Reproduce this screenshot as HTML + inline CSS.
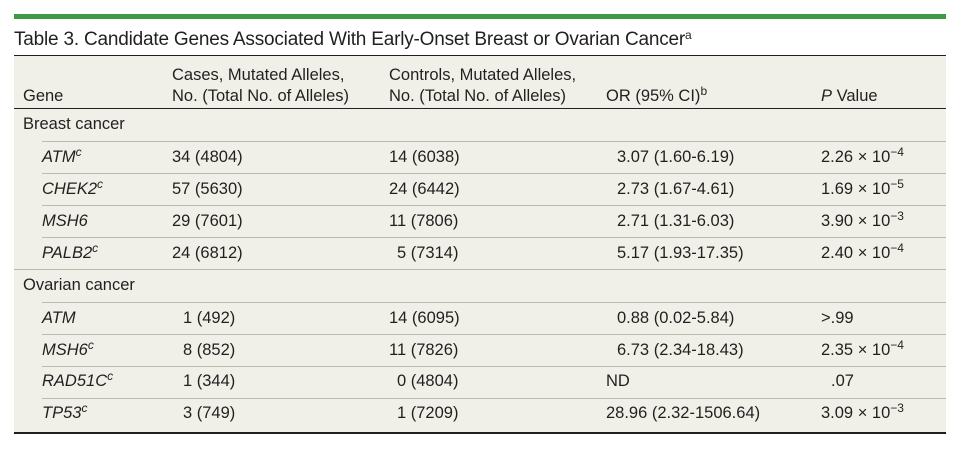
<!DOCTYPE html>
<html><head><meta charset="utf-8"><style>
body{margin:0;width:966px;height:454px;background:#fff;font-family:"Liberation Sans",sans-serif;color:#231f20;position:relative;overflow:hidden}
.a{position:absolute;white-space:nowrap;font-size:16.5px;line-height:20px}
.i{font-style:italic}
sup{font-size:12px;vertical-align:6px;line-height:0}
.l{position:absolute;height:1px;background:#bdbab0}
</style></head><body>
<div style="position:absolute;left:14px;top:14px;width:932px;height:5px;background:#3f9a48"></div>
<div class="a" style="left:14px;top:28px;font-size:19px;line-height:24px;letter-spacing:-0.2px">Table 3. Candidate Genes Associated With Early-Onset Breast or Ovarian Cancer<sup>a</sup></div>
<div style="position:absolute;left:14px;top:55px;width:932px;height:376px;background:#f1f0e8;border-top:1px solid #231f20;border-bottom:2px solid #231f20"></div>
<div style="position:absolute;left:14px;top:108px;width:932px;height:1px;background:#231f20"></div>
<div class="l" style="left:14px;top:269px;width:932px"></div>
<div class="l" style="left:42px;top:141px;width:904px"></div>
<div class="l" style="left:42px;top:173px;width:904px"></div>
<div class="l" style="left:42px;top:205px;width:904px"></div>
<div class="l" style="left:42px;top:237px;width:904px"></div>
<div class="l" style="left:42px;top:302px;width:904px"></div>
<div class="l" style="left:42px;top:334px;width:904px"></div>
<div class="l" style="left:42px;top:366px;width:904px"></div>
<div class="l" style="left:42px;top:398px;width:904px"></div>

<div class="a" style="left:23px;top:86px">Gene</div>
<div class="a" style="left:172px;top:65px">Cases, Mutated Alleles,</div>
<div class="a" style="left:172px;top:86px">No. (Total No. of Alleles)</div>
<div class="a" style="left:389px;top:65px">Controls, Mutated Alleles,</div>
<div class="a" style="left:389px;top:86px">No. (Total No. of Alleles)</div>
<div class="a" style="left:606px;top:86px">OR (95% CI)<sup>b</sup></div>
<div class="a" style="left:821px;top:86px"><span class="i">P</span> Value</div>

<div class="a" style="left:23px;top:114px">Breast cancer</div>
<div class="a i" style="left:42px;top:147px">ATM<sup>c</sup></div>
<div class="a" style="left:172px;top:147px">34 (4804)</div>
<div class="a" style="left:389px;top:147px">14 (6038)</div>
<div class="a" style="left:617px;top:147px">3.07 (1.60-6.19)</div>
<div class="a" style="left:821px;top:147px">2.26 × 10<sup>−4</sup></div>

<div class="a i" style="left:42px;top:179px">CHEK2<sup>c</sup></div>
<div class="a" style="left:172px;top:179px">57 (5630)</div>
<div class="a" style="left:389px;top:179px">24 (6442)</div>
<div class="a" style="left:617px;top:179px">2.73 (1.67-4.61)</div>
<div class="a" style="left:821px;top:179px">1.69 × 10<sup>−5</sup></div>

<div class="a i" style="left:42px;top:211px">MSH6</div>
<div class="a" style="left:172px;top:211px">29 (7601)</div>
<div class="a" style="left:389px;top:211px">11 (7806)</div>
<div class="a" style="left:617px;top:211px">2.71 (1.31-6.03)</div>
<div class="a" style="left:821px;top:211px">3.90 × 10<sup>−3</sup></div>

<div class="a i" style="left:42px;top:243px">PALB2<sup>c</sup></div>
<div class="a" style="left:172px;top:243px">24 (6812)</div>
<div class="a" style="left:397px;top:243px">5 (7314)</div>
<div class="a" style="left:617px;top:243px">5.17 (1.93-17.35)</div>
<div class="a" style="left:821px;top:243px">2.40 × 10<sup>−4</sup></div>

<div class="a" style="left:23px;top:275px">Ovarian cancer</div>
<div class="a i" style="left:42px;top:308px">ATM</div>
<div class="a" style="left:183px;top:308px">1 (492)</div>
<div class="a" style="left:389px;top:308px">14 (6095)</div>
<div class="a" style="left:617px;top:308px">0.88 (0.02-5.84)</div>
<div class="a" style="left:821px;top:308px">&gt;.99</div>

<div class="a i" style="left:42px;top:340px">MSH6<sup>c</sup></div>
<div class="a" style="left:183px;top:340px">8 (852)</div>
<div class="a" style="left:389px;top:340px">11 (7826)</div>
<div class="a" style="left:617px;top:340px">6.73 (2.34-18.43)</div>
<div class="a" style="left:821px;top:340px">2.35 × 10<sup>−4</sup></div>

<div class="a i" style="left:42px;top:371px">RAD51C<sup>c</sup></div>
<div class="a" style="left:183px;top:371px">1 (344)</div>
<div class="a" style="left:397px;top:371px">0 (4804)</div>
<div class="a" style="left:606px;top:371px">ND</div>
<div class="a" style="left:831px;top:371px">.07</div>

<div class="a i" style="left:42px;top:403px">TP53<sup>c</sup></div>
<div class="a" style="left:183px;top:403px">3 (749)</div>
<div class="a" style="left:397px;top:403px">1 (7209)</div>
<div class="a" style="left:606px;top:403px">28.96 (2.32-1506.64)</div>
<div class="a" style="left:821px;top:403px">3.09 × 10<sup>−3</sup></div>
</body></html>
